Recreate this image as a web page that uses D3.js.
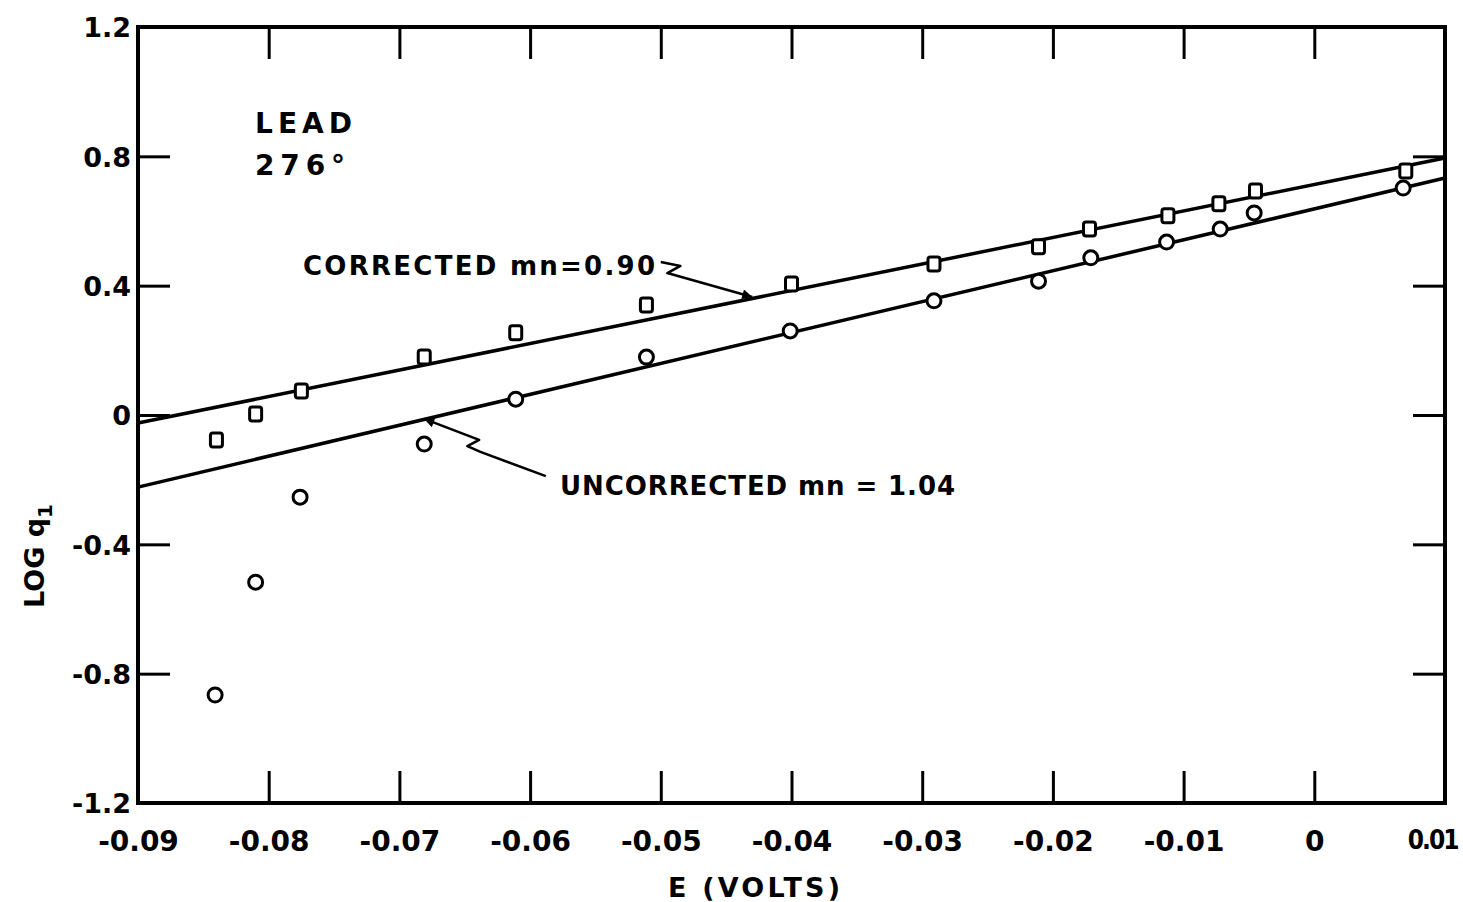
<!DOCTYPE html>
<html>
<head>
<meta charset="utf-8">
<script src="https://cdn.jsdelivr.net/npm/d3@7"></script>
<style>
  html, body { margin: 0; padding: 0; background: #fff; }
  svg text { font-family: "DejaVu Sans", sans-serif; font-weight: bold; fill: #000; }
</style>
</head>
<body>
<div id="chart"></div>
<script>
// Configuration
const svgWidth = 1463;
const svgHeight = 902;
const margin = { top: 27, right: 18, bottom: 99, left: 138 };

// Data
const xTicks = [-0.09, -0.08, -0.07, -0.06, -0.05, -0.04, -0.03, -0.02, -0.01, 0, 0.01];
const xTickLabels = ["-0.09", "-0.08", "-0.07", "-0.06", "-0.05", "-0.04", "-0.03", "-0.02", "-0.01", "0", "0.01"];
const yTicks = [-1.2, -0.8, -0.4, 0, 0.4, 0.8, 1.2];
const yTickLabels = ["-1.2", "-0.8", "-0.4", "0", "0.4", "0.8", "1.2"];

// corrected (squares)
const squareE = [-0.0840, -0.0810, -0.0775, -0.0681, -0.0611, -0.0511, -0.0400, -0.0291, -0.0211, -0.0172, -0.0112, -0.0073, -0.0045, 0.0070];
const squareLogQ = [-0.077, 0.003, 0.074, 0.179, 0.254, 0.340, 0.405, 0.467, 0.520, 0.575, 0.616, 0.653, 0.693, 0.755];
// uncorrected (circles)
const circleE = [-0.0841, -0.0810, -0.0776, -0.0681, -0.0611, -0.0511, -0.0401, -0.0291, -0.0211, -0.0171, -0.0113, -0.0072, -0.0046, 0.0068];
const circleLogQ = [-0.866, -0.517, -0.254, -0.090, 0.049, 0.179, 0.260, 0.353, 0.414, 0.486, 0.535, 0.575, 0.625, 0.702];

// fitted lines, end points
const correctedLineE = [-0.09, 0.01];
const correctedLineLogQ = [-0.025, 0.795];
const uncorrectedLineE = [-0.09, 0.01];
const uncorrectedLineLogQ = [-0.223, 0.733];

// leader lines from the labels to the fitted lines
const correctedLeaderE = [-0.0500, -0.0485, -0.0495, -0.0430];
const correctedLeaderLogQ = [0.473, 0.461, 0.439, 0.365];
const uncorrectedLeaderE = [-0.0588, -0.0638, -0.0648, -0.0639, -0.0681];
const uncorrectedLeaderLogQ = [-0.189, -0.114, -0.096, -0.077, -0.012];

const zip = (a, b) => a.map((v, i) => [v, b[i]]);

// SVG container
const svg = d3.select("#chart")
  .append("svg")
  .attr("width", svgWidth)
  .attr("height", svgHeight);

const x = d3.scaleLinear()
  .domain([-0.09, 0.01])
  .range([margin.left, svgWidth - margin.right]);

const y = d3.scaleLinear()
  .domain([-1.2, 1.2])
  .range([svgHeight - margin.bottom, margin.top]);

const tickLen = 32;

// Axes (inward ticks)
const xAxis = d3.axisBottom(x)
  .tickValues(xTicks)
  .tickFormat((d, i) => xTickLabels[i])
  .tickSizeInner(-tickLen).tickSizeOuter(0).tickPadding(28);
const yAxis = d3.axisLeft(y)
  .tickValues(yTicks)
  .tickFormat((d, i) => yTickLabels[i])
  .tickSizeInner(-tickLen).tickSizeOuter(0).tickPadding(7);
const xAxisTop = d3.axisTop(x)
  .tickValues(xTicks.slice(1, -1)).tickFormat("")
  .tickSizeInner(-tickLen).tickSizeOuter(0);
const yAxisRight = d3.axisRight(y)
  .tickValues(yTicks.slice(1, -1)).tickFormat("")
  .tickSizeInner(-tickLen).tickSizeOuter(0);

const gx = svg.append("g").attr("class", "x-axis")
  .attr("transform", `translate(0, ${y(-1.2)})`).call(xAxis);
const gy = svg.append("g").attr("class", "y-axis")
  .attr("transform", `translate(${x(-0.09)}, 0)`).call(yAxis);
svg.append("g").attr("class", "x-axis-top")
  .attr("transform", `translate(0, ${y(1.2)})`).call(xAxisTop);
svg.append("g").attr("class", "y-axis-right")
  .attr("transform", `translate(${x(0.01)}, 0)`).call(yAxisRight);

// end ticks sit on the frame
gx.selectAll(".tick").filter(d => d === -0.09 || d === 0.01).select("line").remove();
gy.selectAll(".tick").filter(d => d === -1.2 || d === 1.2).select("line").remove();

svg.selectAll(".domain").remove();
svg.selectAll(".tick line")
  .attr("stroke", "#000")
  .attr("stroke-width", 3);

gx.selectAll("text")
  .attr("font-size", "28px");
// last label is squeezed against the edge in the original
gx.selectAll(".tick").filter(d => d === 0.01).select("text")
  .attr("text-anchor", "end")
  .attr("x", 12)
  .attr("font-size", "26px")
  .style("font-family", "'DejaVu Sans Condensed', 'DejaVu Sans', sans-serif")
  .style("letter-spacing", "-2px");
gy.selectAll("text")
  .attr("font-size", "27px")
  .attr("dy", "0.36em");

// Frame
svg.append("rect")
  .attr("x", x(-0.09))
  .attr("y", y(1.2))
  .attr("width", x(0.01) - x(-0.09))
  .attr("height", y(-1.2) - y(1.2))
  .attr("fill", "none")
  .attr("stroke", "#000")
  .attr("stroke-width", 4);

// Fitted lines
const line = d3.line().x(d => x(d[0])).y(d => y(d[1]));

svg.append("path")
  .attr("d", line(zip(correctedLineE, correctedLineLogQ)))
  .attr("fill", "none").attr("stroke", "#000").attr("stroke-width", 3.5);
svg.append("path")
  .attr("d", line(zip(uncorrectedLineE, uncorrectedLineLogQ)))
  .attr("fill", "none").attr("stroke", "#000").attr("stroke-width", 3.5);

// Leaders with arrow heads
const defs = svg.append("defs");
defs.append("marker")
  .attr("id", "arrow")
  .attr("viewBox", "0 0 10 10")
  .attr("refX", 10).attr("refY", 5)
  .attr("markerWidth", 6).attr("markerHeight", 4)
  .attr("markerUnits", "strokeWidth")
  .attr("orient", "auto")
  .append("path")
  .attr("d", "M0,0 L10,5 L0,10 z")
  .attr("fill", "#000");

[[correctedLeaderE, correctedLeaderLogQ], [uncorrectedLeaderE, uncorrectedLeaderLogQ]].forEach(([e, q]) => {
  svg.append("path")
    .attr("d", line(zip(e, q)))
    .attr("fill", "none")
    .attr("stroke", "#000")
    .attr("stroke-width", 2.5)
    .attr("stroke-linejoin", "round")
    .attr("marker-end", "url(#arrow)");
});

// Points
svg.append("g").selectAll("rect")
  .data(zip(squareE, squareLogQ))
  .join("rect")
  .attr("x", d => x(d[0]) - 6)
  .attr("y", d => y(d[1]) - 7)
  .attr("width", 12)
  .attr("height", 14)
  .attr("rx", 2.5)
  .attr("fill", "#fff")
  .attr("stroke", "#000")
  .attr("stroke-width", 3);

svg.append("g").selectAll("circle")
  .data(zip(circleE, circleLogQ))
  .join("circle")
  .attr("cx", d => x(d[0]))
  .attr("cy", d => y(d[1]))
  .attr("r", 7)
  .attr("fill", "#fff")
  .attr("stroke", "#000")
  .attr("stroke-width", 3);

// Annotations
svg.append("text")
  .attr("x", 255).attr("y", 133)
  .attr("font-size", "28px")
  .attr("textLength", 97).attr("lengthAdjust", "spacing")
  .text("LEAD");
svg.append("text")
  .attr("x", 255).attr("y", 175)
  .attr("font-size", "28px")
  .attr("textLength", 90).attr("lengthAdjust", "spacing")
  .text("276°");

svg.append("text")
  .attr("x", 303).attr("y", 275)
  .attr("font-size", "26px")
  .attr("textLength", 352).attr("lengthAdjust", "spacing")
  .text("CORRECTED mn=0.90");

svg.append("text")
  .attr("x", 560).attr("y", 495)
  .attr("font-size", "26px")
  .attr("textLength", 395).attr("lengthAdjust", "spacing")
  .text("UNCORRECTED mn = 1.04");

// Axis titles
svg.append("text")
  .attr("x", 754).attr("y", 897)
  .attr("text-anchor", "middle")
  .attr("font-size", "27px")
  .attr("textLength", 172).attr("lengthAdjust", "spacing")
  .text("E (VOLTS)");

const yTitle = svg.append("text")
  .attr("transform", "translate(44, 556) rotate(-90)")
  .attr("text-anchor", "middle")
  .attr("font-size", "27px");
yTitle.append("tspan").text("LOG q");
yTitle.append("tspan").attr("dy", 8).attr("font-size", "20px").text("1");
</script>
</body>
</html>
